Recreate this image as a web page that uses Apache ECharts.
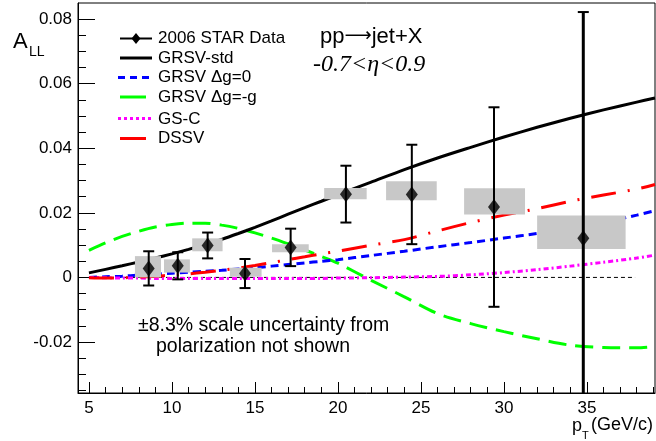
<!DOCTYPE html>
<html><head><meta charset="utf-8">
<script src="https://cdn.jsdelivr.net/npm/echarts@6/dist/echarts.min.js"></script>
<style>html,body{margin:0;padding:0;background:#fff}#c{width:656px;height:441px}</style>
</head><body><div id="c"></div>
<script>
// ---- data ----
const curveX     = [5, 6, 7, 8, 9, 10, 11, 12, 13, 14, 15, 16, 17, 18, 19, 20, 22, 24, 26, 28, 30, 32, 34, 36, 38, 39.1];
const grsvStd    = [0.0014,0.0025,0.0036,0.0048,0.0060,0.0073,0.0087,0.0102,0.0118,0.0136,0.0155,0.0175,0.0196,0.0216,0.0236,0.0256,0.0295,0.0334,0.0370,0.0403,0.0435,0.0465,0.0493,0.0519,0.0543,0.0556];
const grsvG0     = [0.0000,0.0002,0.0004,0.0007,0.0010,0.0013,0.0016,0.0019,0.0022,0.0026,0.0030,0.0035,0.0040,0.0045,0.0050,0.0055,0.0068,0.0081,0.0095,0.0108,0.0122,0.0136,0.0151,0.0170,0.0193,0.0207];
const grsvMinusG = [0.0084,0.0107,0.0127,0.0143,0.0156,0.0164,0.0168,0.0168,0.0162,0.0152,0.0138,0.0122,0.0104,0.0085,0.0065,0.0044,-0.0009,-0.0060,-0.0112,-0.0143,-0.0168,-0.0190,-0.0210,-0.0217,-0.0218,-0.0214];
const gsC        = [0.0000,-0.0001,-0.0002,-0.0002,-0.0003,-0.0003,-0.0003,-0.0003,-0.0003,-0.0003,-0.0003,-0.0003,-0.0003,-0.0003,-0.0003,-0.0002,-0.0001,0.0001,0.0003,0.0008,0.0015,0.0024,0.0035,0.0047,0.0060,0.0069];
const dssv       = [-0.0001,-0.0002,-0.0001,0.0001,0.0004,0.0007,0.0011,0.0016,0.0022,0.0029,0.0037,0.0046,0.0055,0.0064,0.0073,0.0081,0.0100,0.0117,0.0144,0.0170,0.0193,0.0213,0.0236,0.0255,0.0274,0.0288];

const ptX     = [8.6, 10.35, 12.15, 14.4, 17.15, 20.48, 24.45, 29.4, 34.78];
const ptY     = [0.0028, 0.0036, 0.0099, 0.0012, 0.0093, 0.0258, 0.0257, 0.0218, 0.0121];
const statErr = [0.0053, 0.0042, 0.0040, 0.0045, 0.0058, 0.0088, 0.0154, 0.0309, 0.0701];

const sysXLo = [7.77, 9.52, 11.22, 13.49, 16.03, 19.17, 22.9, 27.6, 32.0];
const sysXHi = [9.34, 11.08, 13.05, 15.40, 18.24, 21.73, 25.95, 31.27, 37.33];
const sysYLo = [0.0000, 0.0015, 0.0081, 0.0002, 0.0078, 0.0242, 0.0239, 0.0195, 0.0088];
const sysYHi = [0.0066, 0.0056, 0.0121, 0.0030, 0.0103, 0.0277, 0.0298, 0.0276, 0.0192];

const zeroLineX = [5, 37.9];
const zeroLineY = [0, 0];

const xMajorTicks = [5, 10, 15, 20, 25, 30, 35];
const xMinorTicks = [5,6,7,8,9,10,11,12,13,14,15,16,17,18,19,20,21,22,23,24,25,26,27,28,29,30,31,32,33,34,35,36,37,38,39];
const yMajorTicks = [-0.02, 0, 0.02, 0.04, 0.06, 0.08];
const yMinorTicks = [-0.035,-0.03,-0.025,-0.02,-0.015,-0.01,-0.005,0,0.005,0.01,0.015,0.02,0.025,0.03,0.035,0.04,0.045,0.05,0.055,0.06,0.065,0.07,0.075,0.08];

const legendNames = ['2006 STAR Data', 'GRSV-std', 'GRSV \u0394g=0', 'GRSV \u0394g=-g', 'GS-C', 'DSSV'];

// ---- chart ----
const FONT = 'Liberation Sans, Arial, sans-serif';
const X_MIN = 4.34, X_MAX = 39.1, Y_MIN = -0.0358, Y_MAX = 0.085;
const pair = (xs, ys) => xs.map((x, i) => [x, ys[i]]);

function curve(name, ys, color, type, z) {
  return { name, type: 'line', data: pair(curveX, ys), smooth: 0.3, symbol: 'none', z: z || 2,
    lineStyle: { color, width: 3, type }, clip: true, animation: false };
}

const chart = echarts.init(document.getElementById('c'), null, { renderer: 'canvas' });
const option = {
  animation: false,
  backgroundColor: '#fff',
  grid: { left: 78, right: 1, top: 3, bottom: 48, show: true, borderColor: '#000', borderWidth: 1, backgroundColor: 'transparent' },
  xAxis: [
    { type: 'value', min: X_MIN, max: X_MAX, position: 'bottom',
      axisLine: { show: true, onZero: false, lineStyle: { color: '#000', width: 1 } },
      axisTick: { show: true, inside: true, length: 11, customValues: xMajorTicks, lineStyle: { color: '#000', width: 1 } },
      axisLabel: { show: true, customValues: xMajorTicks, fontSize: 17, color: '#000', fontFamily: FONT, margin: 7 },
      splitLine: { show: false } },
    { type: 'value', min: X_MIN, max: X_MAX, position: 'bottom',
      axisLine: { show: false, onZero: false },
      axisTick: { show: true, inside: true, length: 6, customValues: xMinorTicks, lineStyle: { color: '#000', width: 1 } },
      axisLabel: { show: false }, splitLine: { show: false } }
  ],
  yAxis: [
    { type: 'value', min: Y_MIN, max: Y_MAX, position: 'left',
      axisLine: { show: true, onZero: false, lineStyle: { color: '#000', width: 1 } },
      axisTick: { show: true, inside: true, length: 17, customValues: yMajorTicks, lineStyle: { color: '#000', width: 1 } },
      axisLabel: { show: true, customValues: yMajorTicks, fontSize: 17, color: '#000', fontFamily: FONT, margin: 6,
        formatter: v => (Math.abs(v) < 1e-9 ? '0' : v.toFixed(2)) },
      splitLine: { show: false } },
    { type: 'value', min: Y_MIN, max: Y_MAX, position: 'left',
      axisLine: { show: false, onZero: false },
      axisTick: { show: true, inside: true, length: 8, customValues: yMinorTicks, lineStyle: { color: '#000', width: 1 } },
      axisLabel: { show: false }, splitLine: { show: false } }
  ],
  series: [
    { name: 'zero', type: 'line', data: pair(zeroLineX, zeroLineY), symbol: 'none', z: 1,
      lineStyle: { color: '#000', width: 1, type: [4, 3] } },
    curve('GRSV \u0394g=-g', grsvMinusG, '#00ff00', [18, 9]),
    curve('GRSV \u0394g=0', grsvG0, '#0000ff', [8, 5]),
    curve('GS-C', gsC, '#ff00ff', [5, 3, 2, 3]),
    curve('DSSV', dssv, '#ff0000', [25, 12, 2, 12]),
    curve('GRSV-std', grsvStd, '#000000', 'solid'),
    { name: 'sys', type: 'custom', z: 3, clip: true,
      data: sysXLo.map((x, i) => [x, sysXHi[i], sysYLo[i], sysYHi[i]]),
      encode: { x: [0, 1], y: [2, 3] },
      renderItem: (params, api) => {
        const p1 = api.coord([api.value(0), api.value(3)]);
        const p2 = api.coord([api.value(1), api.value(2)]);
        return { type: 'rect', shape: { x: p1[0], y: p1[1], width: p2[0] - p1[0], height: p2[1] - p1[1] },
          style: { fill: '#c8c8c8' } };
      } },
    { name: 'err', type: 'custom', z: 4, clip: true,
      data: ptX.map((x, i) => [x, ptY[i], statErr[i]]),
      encode: { x: 0, y: 1 },
      renderItem: (params, api) => {
        const x = api.value(0), y = api.value(1), e = api.value(2);
        const t = api.coord([x, y + e]), b = api.coord([x, y - e]);
        const lw = params.dataIndex === ptX.length - 1 ? 3 : 2;
        const st = { stroke: '#000', lineWidth: lw };
        return { type: 'group', children: [
          { type: 'line', shape: { x1: t[0], y1: t[1], x2: b[0], y2: b[1] }, style: st },
          { type: 'line', shape: { x1: t[0] - 5.5, y1: t[1], x2: t[0] + 5.5, y2: t[1] }, style: { stroke: '#000', lineWidth: 2 } },
          { type: 'line', shape: { x1: b[0] - 5.5, y1: b[1], x2: b[0] + 5.5, y2: b[1] }, style: { stroke: '#000', lineWidth: 2 } }
        ] };
      } },
    { name: '2006 STAR Data', type: 'scatter', z: 5, data: pair(ptX, ptY), symbol: 'diamond', symbolSize: [12, 16],
      itemStyle: { color: '#000' } }
  ],
  graphic: [
    // y-axis title
    { type: 'text', x: 13, y: 42, style: { text: 'A', font: '22px ' + FONT, fill: '#000', textVerticalAlign: 'middle' } },
    { type: 'text', x: 29, y: 52, style: { text: 'LL', font: '14px ' + FONT, fill: '#000', textVerticalAlign: 'middle' } },
    // x-axis title
    { type: 'text', x: 572, y: 426, style: { text: 'p', font: '18px ' + FONT, fill: '#000', textVerticalAlign: 'middle' } },
    { type: 'text', x: 582, y: 436, style: { text: 'T', font: '11px ' + FONT, fill: '#000', textVerticalAlign: 'middle' } },
    { type: 'text', x: 591, y: 425, style: { text: '(GeV/c)', font: '18px ' + FONT, fill: '#000', textVerticalAlign: 'middle' } },
    // reaction labels
    { type: 'text', x: 320, y: 37, style: { text: '{a|pp}{b|\u27f6}{a|jet+X}', fill: '#000', textVerticalAlign: 'middle',
      rich: { a: { fontSize: 22, fontFamily: FONT, color: '#000' },
              b: { fontSize: 19, fontFamily: 'DejaVu Sans', color: '#000', padding: [0, 0, 2, 0] } } } },
    { type: 'text', x: 313, y: 65, style: { text: '-0.7<\u03b7<0.9', font: 'italic 24px Liberation Serif, Times New Roman, serif', fill: '#000', textVerticalAlign: 'middle' } },
    // note
    { type: 'text', x: 138, y: 326, style: { text: '\u00b18.3% scale uncertainty from', font: '19.5px ' + FONT, fill: '#000', textVerticalAlign: 'middle' } },
    { type: 'text', x: 156, y: 347, style: { text: 'polarization not shown', font: '19.5px ' + FONT, fill: '#000', textVerticalAlign: 'middle' } },
    // legend symbols
    { type: 'line', shape: { x1: 120, y1: 38.5, x2: 152, y2: 38.5 }, style: { stroke: '#000', lineWidth: 2 } },
    { type: 'polygon', shape: { points: [[136, 33], [140.5, 38.5], [136, 44], [131.5, 38.5]] }, style: { fill: '#000' } },
    { type: 'line', shape: { x1: 120, y1: 58, x2: 152, y2: 58 }, style: { stroke: '#000', lineWidth: 3 } },
    { type: 'line', shape: { x1: 118, y1: 77.5, x2: 153, y2: 77.5 }, style: { stroke: '#0000ff', lineWidth: 3, lineDash: [7, 5] } },
    { type: 'line', shape: { x1: 120, y1: 97, x2: 146, y2: 97 }, style: { stroke: '#00ff00', lineWidth: 3 } },
    { type: 'line', shape: { x1: 118, y1: 118.5, x2: 152, y2: 118.5 }, style: { stroke: '#ff00ff', lineWidth: 3, lineDash: [3, 3] } },
    { type: 'line', shape: { x1: 120, y1: 138.5, x2: 146, y2: 138.5 }, style: { stroke: '#ff0000', lineWidth: 3 } },
    // legend labels
    ...legendNames.map((n, i) => ({ type: 'text', x: 158, y: [38.5, 58.5, 77, 97, 119, 138.5][i],
      style: { text: n, font: '17px ' + FONT, fill: '#000', textVerticalAlign: 'middle' } }))
  ]
};
chart.setOption(option);
</script>
</body></html>
